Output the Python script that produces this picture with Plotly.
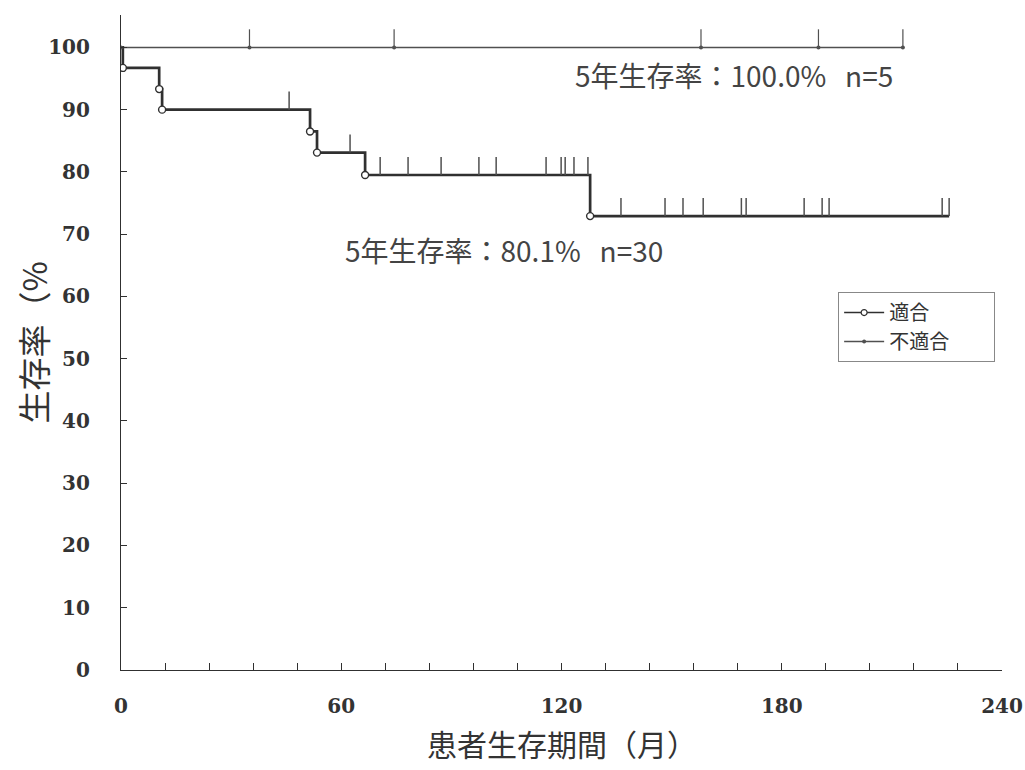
import plotly.graph_objects as go

# --- 適合 (n=30): death steps and censored times (months, %) ---
fit_event_months = [0.5, 10.4, 11.2, 51.5, 53.4, 66.5, 127.8]
fit_event_surv = [96.7, 93.3, 90.0, 86.5, 83.1, 79.5, 72.9]
fit_censor_months = [45.8, 62.4, 70.6, 78.2, 87.2, 97.5, 102.2, 115.8, 119.9,
                     121.0, 123.4, 127.2, 136.2, 148.2, 153.1, 158.6, 169.0,
                     170.3, 186.1, 191.0, 192.9, 223.7, 225.6]

# --- 不適合 (n=5): no deaths, censored times ---
unfit_censor_months = [35.0, 74.4, 158.0, 190.0, 213.0]
unfit_surv = 100.0

x_ticks = [0, 12, 24, 36, 48, 60, 72, 84, 96, 108, 120, 132, 144, 156, 168,
           180, 192, 204, 216, 228, 240]
x_labels = ["0", "", "", "", "", "60", "", "", "", "", "120", "", "", "", "",
            "180", "", "", "", "", "240"]
y_ticks = [0, 10, 20, 30, 40, 50, 60, 70, 80, 90, 100]

ann_unfit = "5年生存率：100.0%   n=5"
ann_fit = "5年生存率：80.1%   n=30"

TICK_H = 2.9  # height of censor marks in % units
DARK = "#303030"
GREY = "#505050"


def level_at(t):
    s = 100.0
    for et, es in zip(fit_event_months, fit_event_surv):
        if et <= t:
            s = es
    return s


fig = go.Figure()

# 適合 step curve
fx = [0] + fit_event_months + [max(fit_censor_months)]
fy = [100.0] + fit_event_surv + [fit_event_surv[-1]]
fig.add_trace(go.Scatter(x=fx, y=fy, mode="lines", line_shape="hv",
                         line=dict(color=DARK, width=2.7), showlegend=False,
                         hoverinfo="skip"))

# censor marks for 適合
cx, cy = [], []
for t in fit_censor_months:
    s = level_at(t)
    cx += [t, t, None]
    cy += [s, s + TICK_H, None]
fig.add_trace(go.Scatter(x=cx, y=cy, mode="lines",
                         line=dict(color=GREY, width=1.5), showlegend=False,
                         hoverinfo="skip"))

# death points (open circles)
fig.add_trace(go.Scatter(x=fit_event_months, y=fit_event_surv, mode="markers",
                         marker=dict(symbol="circle", size=7, color="white",
                                     line=dict(color=DARK, width=1.4)),
                         showlegend=False))

# 不適合 flat curve
ux = [0, max(unfit_censor_months)]
fig.add_trace(go.Scatter(x=ux, y=[unfit_surv, unfit_surv], mode="lines",
                         line=dict(color=GREY, width=1.5), showlegend=False,
                         hoverinfo="skip"))
ucx, ucy = [], []
for t in unfit_censor_months:
    ucx += [t, t, None]
    ucy += [unfit_surv, unfit_surv + TICK_H, None]
fig.add_trace(go.Scatter(x=ucx, y=ucy, mode="lines",
                         line=dict(color=GREY, width=1.2), showlegend=False,
                         hoverinfo="skip"))
fig.add_trace(go.Scatter(x=[0] + unfit_censor_months,
                         y=[unfit_surv] * (len(unfit_censor_months) + 1),
                         mode="markers",
                         marker=dict(symbol="circle", size=4, color=GREY),
                         showlegend=False))

# legend entries
fig.add_trace(go.Scatter(x=[None], y=[None], mode="lines+markers",
                         name="適合",
                         line=dict(color=DARK, width=1.5),
                         marker=dict(symbol="circle", size=6, color="white",
                                     line=dict(color=DARK, width=1.2))))
fig.add_trace(go.Scatter(x=[None], y=[None], mode="lines+markers",
                         name="不適合　　",
                         line=dict(color=GREY, width=1.5),
                         marker=dict(symbol="circle", size=4, color=GREY)))

fig.add_annotation(x=123.0, y=95.6, xref="x", yref="y", text=ann_unfit,
                   showarrow=False, xanchor="left", yanchor="middle",
                   font=dict(family="Noto Sans CJK JP", size=28, color="#444444"))
fig.add_annotation(x=60.5, y=67.5, xref="x", yref="y", text=ann_fit,
                   showarrow=False, xanchor="left", yanchor="middle",
                   font=dict(family="Noto Sans CJK JP", size=28, color="#444444"))

# axis titles
fig.add_annotation(x=0.5, y=-0.111, xref="paper", yref="paper",
                   text="患者生存期間（月）", showarrow=False,
                   xanchor="center", yanchor="middle",
                   font=dict(family="Noto Sans CJK JP", size=30, color="#333333"))
fig.add_annotation(x=-0.1, y=0.5, xref="paper", yref="paper",
                   text="生存率（%", showarrow=False, textangle=-90,
                   xanchor="center", yanchor="middle",
                   font=dict(family="Noto Sans CJK JP", size=33, color="#333333"))

tick_font = dict(family="DejaVu Serif", size=20, color="#333333",
                 weight="bold")

fig.update_layout(
    width=1025, height=770,
    margin=dict(l=121, r=23, t=15, b=100, autoexpand=False),
    paper_bgcolor="white", plot_bgcolor="white",
    showlegend=True,
    legend=dict(x=0.814, y=0.577, xanchor="left", yanchor="top",
                bordercolor="#888888", borderwidth=1, bgcolor="white",
                font=dict(family="Noto Sans CJK JP", size=20, color="#333333"),
                tracegroupgap=0, itemwidth=40),
    xaxis=dict(range=[0, 240], tickvals=x_ticks, ticktext=x_labels,
               ticks="inside", ticklen=7, tickcolor=DARK, tickwidth=1,
               showline=True, linecolor=DARK, linewidth=1.2,
               showgrid=False, zeroline=False, tickfont=tick_font,
               ticklabelstandoff=18, automargin=False,
               ticklabeloverflow="allow"),
    yaxis=dict(range=[0, 105.2], tickvals=y_ticks,
               ticks="inside", ticklen=6, tickcolor=DARK, tickwidth=1,
               showline=True, linecolor=DARK, linewidth=1.2,
               showgrid=False, zeroline=False, tickfont=tick_font,
               ticklabelstandoff=26, automargin=False,
               ticklabeloverflow="allow"),
)

fig.write_html("out.html")
